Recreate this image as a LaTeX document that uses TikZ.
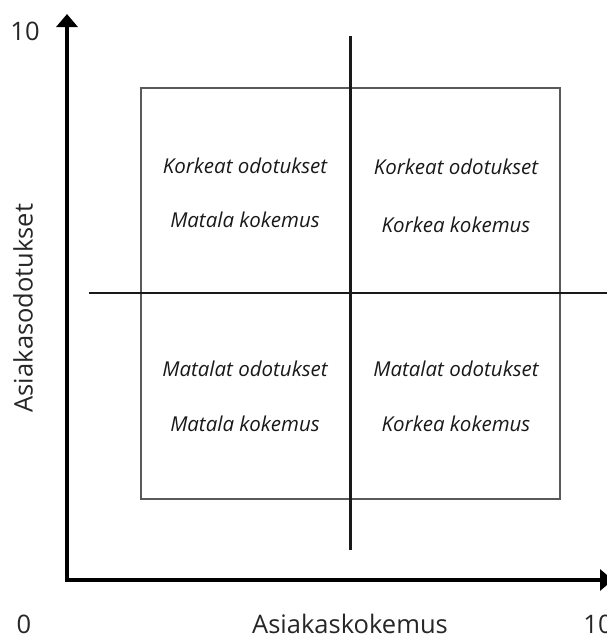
\documentclass[tikz,border=0pt]{standalone}
\usepackage{fontspec}
\setmainfont{Open Sans}
\usetikzlibrary{arrows.meta}

\begin{document}
\begin{tikzpicture}[
  x=1pt, y=-1pt,
  axis/.style={line width=3.4pt, {Triangle[length=13pt,width=21pt]}-{Triangle[length=13pt,width=21pt]}},
  cross/.style={line width=2.2pt, black!90},
  frame/.style={draw=black!65, line width=1.4pt},
  quad/.style={font=\fontsize{20.5}{24}\selectfont\itshape, text=black!90, inner sep=0pt},
  axlabel/.style={font=\fontsize{25.5}{30}\selectfont, text=black!85, inner sep=0pt},
]
\useasboundingbox (0,0) rectangle (606,637);

% ---- quadrant frame and cross ----
\draw[frame] (141,88) rectangle (560,499);
\coordinate (vtop) at (350.5,36);
\coordinate (vbot) at (350.5,550);
\coordinate (hleft) at (89,293);
\coordinate (hright) at (612,293);
\draw[cross] (vtop) -- (vbot);
\draw[cross] (hleft) -- (hright);

% ---- axes ----
\coordinate (ytop) at (67,14);
\coordinate (xend) at (613,580);
\draw[axis] (ytop) |- (xend);

% ---- axis labels ----
\node[axlabel] (ymax) at (25,31) {10};
\node[axlabel] (zero) at (24,624) {0};
\node[axlabel] (xmax) at (598,624) {10};
\node[axlabel] (xlbl) at (350,624) {Asiakaskokemus};
\node[axlabel, rotate=90] (ylbl) at (23,308) {Asiakasodotukset};

% ---- quadrant texts ----
\node[quad] (q1a) at (245,166) {Korkeat odotukset};
\node[quad] (q1b) at (245,220) {Matala kokemus};
\node[quad] (q2a) at (456,167) {Korkeat odotukset};
\node[quad] (q2b) at (456,225) {Korkea kokemus};
\node[quad] (q3a) at (245,369) {Matalat odotukset};
\node[quad] (q3b) at (245,424) {Matala kokemus};
\node[quad] (q4a) at (456,369) {Matalat odotukset};
\node[quad] (q4b) at (456,424) {Korkea kokemus};

\end{tikzpicture}
\end{document}
